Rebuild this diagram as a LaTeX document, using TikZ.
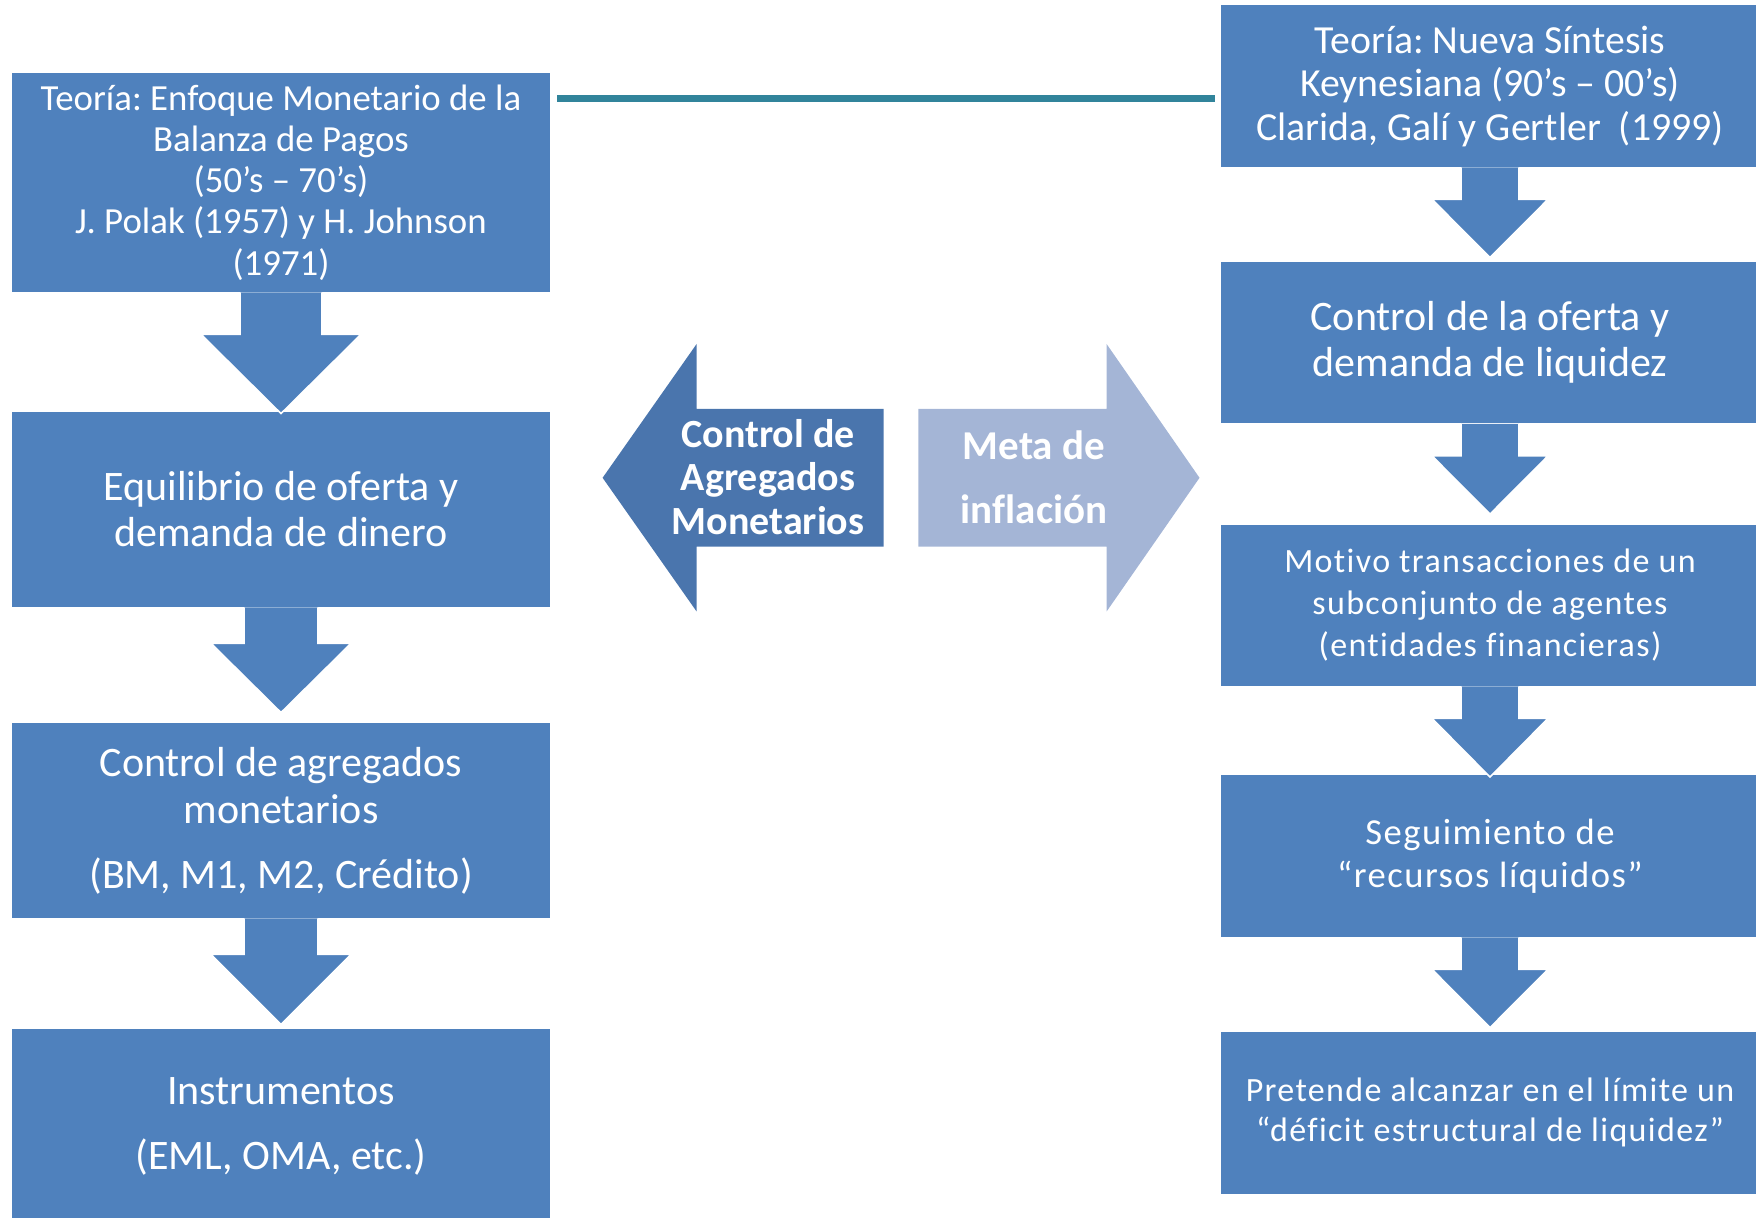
\documentclass[tikz,border=0pt]{standalone}
\usepackage{fontspec}
\setmainfont{Carlito}[Ligatures=NoCommon]
\newfontfamily\widefont[LetterSpace=4, Ligatures=NoCommon]{Carlito}
\usetikzlibrary{calc}

\definecolor{boxblue}{HTML}{4F81BD}
\definecolor{darkarrow}{HTML}{4A75AD}
\definecolor{lightarrow}{HTML}{A4B5D6}
\definecolor{linkteal}{HTML}{31849B}

\tikzset{
  block/.style={fill=boxblue, text=white, align=center, inner sep=0pt, minimum width=269pt},
  flow/.style={fill=boxblue, draw=white, line width=0.8pt},
  bigarrowtext/.style={text=white, align=center, inner sep=0pt},
}

% block arrow between two boxes: from, to, shaft half, head half, shaft length, tip offset
\newcommand{\flowarrow}[6]{%
  \draw[flow] ($(#1.south)+(-#3,0)$) -- ($(#1.south)+(-#3,#5)$) -- ($(#1.south)+(-#4,#5)$)
    -- ($(#2.north)+(0,#6)$) -- ($(#1.south)+(#4,#5)$) -- ($(#1.south)+(#3,#5)$) -- ($(#1.south)+(#3,0)$);
}

\begin{document}
\frenchspacing
\begin{tikzpicture}[x=0.5pt, y=-0.5pt]
  \clip (0,0) rectangle (1756,1218);

  % left column
  \node[block, minimum height=109.5pt, font=\fontsize{18.4pt}{20.6pt}\selectfont] (theoryA) at (281,182.5)
    {Teoría: Enfoque Monetario de la\\Balanza de Pagos\\(50’s – 70’s)\\J. Polak (1957) y H. Johnson\\(1971)};
  \node[block, minimum height=97.5pt, font=\fontsize{21pt}{23pt}\selectfont] (equil) at (281,509.5)
    {Equilibrio de oferta y\\demanda de dinero};
  \node[block, minimum height=97.5pt, font=\fontsize{21pt}{23.5pt}\selectfont] (aggr) at (281,820.5)
    {Control de agregados\\monetarios\\[9pt](BM, M1, M2, Crédito)};
  \node[block, minimum height=97pt, font=\fontsize{21pt}{23.5pt}\selectfont] (instr) at (281,1126)
    {Instrumentos\\[9pt](EML, OMA, etc.)};

  \flowarrow{theoryA}{equil}{41}{80}{42}{2}
  \flowarrow{equil}{aggr}{37}{70}{36}{-10}
  \flowarrow{aggr}{instr}{37}{70}{36}{-4}

  % right column
  \node[block, minimum height=80.75pt, font=\fontsize{19.9pt}{21.8pt}\selectfont] (theoryB) at (1490,86.2)
    {Teoría: Nueva Síntesis\\Keynesiana (90’s – 00’s)\\Clarida, Galí y Gertler~ (1999)};
  \node[block, minimum height=80.75pt, font=\fontsize{21pt}{23pt}\selectfont] (liq) at (1490,342.7)
    {Control de la oferta y\\demanda de liquidez};
  \node[block, minimum height=80.75pt, font=\widefont\fontsize{17pt}{21pt}\selectfont] (motive) at (1490,605.3)
    {Motivo transacciones de un\\subconjunto de agentes\\(entidades financieras)};
  \node[block, minimum height=80.75pt, font=\widefont\fontsize{18.3pt}{21.3pt}\selectfont] (track) at (1490,856.2)
    {Seguimiento de\\“recursos líquidos”};
  \node[block, minimum height=80.75pt, font=\widefont\fontsize{17pt}{20pt}\selectfont] (deficit) at (1490,1112.8)
    {Pretende alcanzar en el límite un\\“déficit estructural de liquidez”};

  \flowarrow{theoryB}{liq}{29}{58}{32}{-4}
  \flowarrow{liq}{motive}{29}{58}{32}{-10}
  \flowarrow{motive}{track}{29}{58}{32}{2}
  \flowarrow{track}{deficit}{29}{58}{32}{-4}

  % link between the two theories
  \coordinate (linkA) at ($(theoryA.north east)+(7,26)$);
  \coordinate (linkB) at ($(linkA -| theoryB.west)+(-6,0)$);
  \draw[linkteal, line width=3.4pt] (linkA) -- (linkB);

  % centre arrows
  \fill[darkarrow] (602.6,477.8) -- (696.6,344) -- (696.6,408.8) -- (883.7,408.8)
    -- (883.7,546.6) -- (696.6,546.6) -- (696.6,611.5) -- cycle;
  \node[bigarrowtext, font=\bfseries\fontsize{20pt}{21.8pt}\selectfont] (aggrgoal) at (768,477)
    {Control de\\Agregados\\Monetarios};

  \fill[lightarrow] (918.4,408.8) -- (1106.6,408.8) -- (1106.6,344) -- (1199.5,477.8)
    -- (1106.6,611.5) -- (1106.6,546.6) -- (918.4,546.6) -- cycle;
  \node[bigarrowtext, font=\bfseries\fontsize{20.5pt}{32pt}\selectfont] (inflgoal) at (1034,477)
    {Meta de\\inflación};
\end{tikzpicture}
\end{document}
